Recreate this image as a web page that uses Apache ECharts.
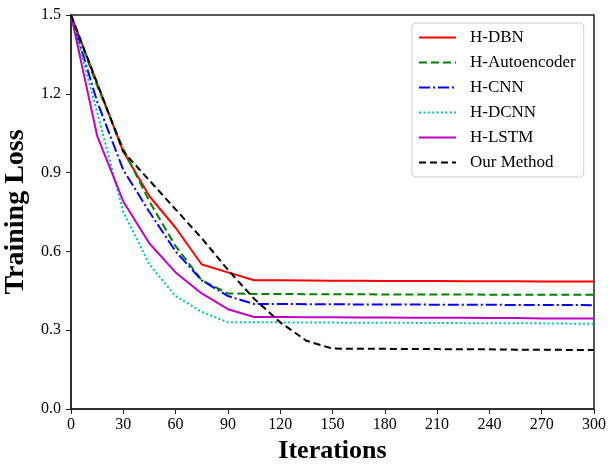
<!DOCTYPE html>
<html>
<head>
<meta charset="utf-8">
<script src="https://cdn.jsdelivr.net/npm/echarts@6/dist/echarts.min.js"></script>
<style>
  html, body { margin: 0; padding: 0; background: #fff; }
  #chart { width: 608px; height: 464px; }
</style>
</head>
<body>
<div id="chart"></div>
<script>
// iterations sampled every 15
const iterations = [0, 15, 30, 45, 60, 75, 90, 105, 120, 135, 150, 165, 180, 195, 210, 225, 240, 255, 270, 285, 300]

const hDbn = [1.5, 1.24, 0.98, 0.81, 0.69, 0.55, 0.52, 0.49, 0.49, 0.489, 0.488, 0.488, 0.487, 0.487, 0.487, 0.486, 0.486, 0.486, 0.485, 0.485, 0.485]
const hAutoencoder = [1.5, 1.23, 0.99, 0.79, 0.62, 0.49, 0.44, 0.438, 0.438, 0.437, 0.437, 0.437, 0.436, 0.436, 0.436, 0.436, 0.435, 0.435, 0.435, 0.435, 0.435]
const hCnn = [1.5, 1.17, 0.91, 0.75, 0.60, 0.49, 0.43, 0.40, 0.40, 0.399, 0.399, 0.398, 0.398, 0.398, 0.397, 0.397, 0.397, 0.396, 0.396, 0.396, 0.395]
const hDcnn = [1.5, 1.13, 0.75, 0.55, 0.43, 0.37, 0.33, 0.33, 0.33, 0.329, 0.329, 0.328, 0.328, 0.328, 0.327, 0.327, 0.326, 0.326, 0.326, 0.325, 0.325]
const hLstm = [1.5, 1.04, 0.79, 0.63, 0.52, 0.44, 0.38, 0.35, 0.35, 0.349, 0.349, 0.348, 0.348, 0.347, 0.347, 0.347, 0.346, 0.346, 0.345, 0.345, 0.345]
const ourMethod = [1.5, 1.24, 0.98, 0.87, 0.76, 0.65, 0.53, 0.42, 0.33, 0.26, 0.23, 0.229, 0.229, 0.228, 0.228, 0.227, 0.227, 0.226, 0.226, 0.225, 0.225]

const yTicks = [0, 0.3, 0.6, 0.9, 1.2, 1.5]
const xTicks = [0, 30, 60, 90, 120, 150, 180, 210, 240, 270, 300]

const seriesNames = ['H-DBN', 'H-Autoencoder', 'H-CNN', 'H-DCNN', 'H-LSTM', 'Our Method']
const seriesData = [hDbn, hAutoencoder, hCnn, hDcnn, hLstm, ourMethod]
const seriesColors = ['#ff0000', '#008000', '#0000ff', '#00bfbf', '#bf00bf', '#000000']
const seriesDash = ['solid', [8, 4], [11, 3, 2, 3], [2, 2.4], 'solid', [7, 4]]

const serif = '"Liberation Serif", "Times New Roman", serif'

const chart = echarts.init(document.getElementById('chart'), null, { renderer: 'canvas' })

chart.setOption({
    animation: false,
    backgroundColor: '#fff',
    grid: {
        left: 71, right: 14, top: 15, bottom: 55,
        outerBoundsMode: 'none',
        show: true, borderColor: '#222', borderWidth: 1.5, backgroundColor: 'transparent'
    },
    legend: {
        data: seriesNames,
        orient: 'vertical',
        left: 412, top: 23,
        padding: [6, 8, 6, 6],
        itemWidth: 37, itemHeight: 14, itemGap: 8,
        itemStyle: { opacity: 0 },
        backgroundColor: '#fff',
        borderColor: '#cfcfcf', borderWidth: 1, borderRadius: 4,
        textStyle: { fontFamily: serif, fontSize: 17, color: '#000', padding: [0, 0, 0, 9] }
    },
    xAxis: {
        type: 'value',
        min: 0, max: 300, interval: 30,
        name: 'Iterations',
        nameLocation: 'middle', nameGap: 19,
        nameTextStyle: { fontFamily: serif, fontSize: 26, fontWeight: 'bold', color: '#000' },
        axisLine: { lineStyle: { color: '#222', width: 1.5 } },
        axisTick: { inside: false, length: 5, lineStyle: { color: '#222' } },
        axisLabel: {
            fontFamily: serif, fontSize: 16, color: '#000', margin: 8,
            formatter: v => xTicks.includes(v) ? String(v) : ''
        },
        splitLine: { show: false }
    },
    yAxis: {
        type: 'value',
        min: 0, max: 1.5, interval: 0.3,
        name: 'Training Loss',
        nameLocation: 'middle', nameGap: 31,
        nameTextStyle: { fontFamily: serif, fontSize: 28, fontWeight: 'bold', color: '#000' },
        axisLine: { show: true, lineStyle: { color: '#222', width: 1.5 } },
        axisTick: { show: true, inside: false, length: 5, lineStyle: { color: '#222' } },
        axisLabel: {
            fontFamily: serif, fontSize: 16, color: '#000', margin: 10,
            formatter: v => {
                const t = yTicks.find(y => Math.abs(y - v) < 1e-6)
                return t === undefined ? '' : t.toFixed(1)
            }
        },
        splitLine: { show: false }
    },
    series: seriesNames.map((name, i) => ({
        name,
        type: 'line',
        data: iterations.map((x, j) => [x, seriesData[i][j]]),
        showSymbol: false,
        symbol: 'none',
        color: seriesColors[i],
        lineStyle: { color: seriesColors[i], width: 2, type: seriesDash[i] }
    }))
})
</script>
</body>
</html>
